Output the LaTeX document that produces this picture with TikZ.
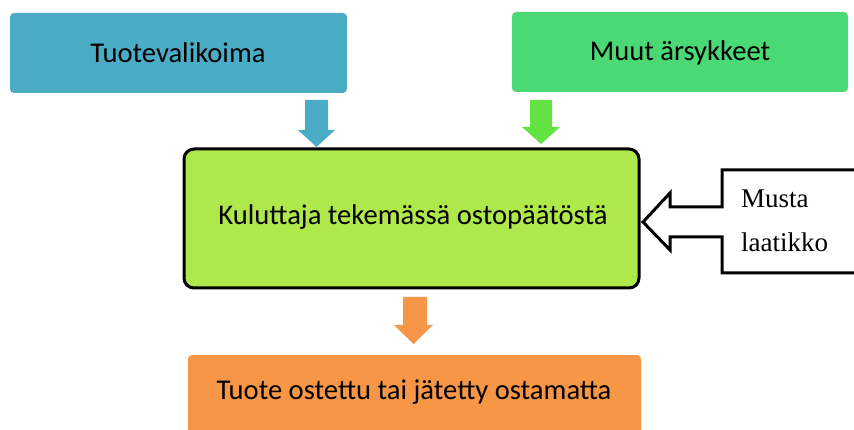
\documentclass[tikz,border=0pt]{standalone}
\usepackage{fontspec}
\setmainfont{Carlito}
\newfontfamily\serifx{Liberation Serif}
\definecolor{cblue}{RGB}{75,172,198}
\definecolor{cgreen}{RGB}{74,217,116}
\definecolor{carrowgreen}{RGB}{99,226,67}
\definecolor{clime}{RGB}{174,232,74}
\definecolor{corange}{RGB}{247,150,70}
\tikzset{
  boxtext/.style={font=\fontsize{28.6}{34}\selectfont, text=black},
  box/.style={rounded corners=4pt, inner sep=0pt},
  blockarrow/.style={draw=none}
}
\begin{document}
\begin{tikzpicture}[x=1pt,y=-1pt]
\useasboundingbox (0,0) rectangle (854,430);
\clip (0,0) rectangle (854,430);
% top boxes
\fill[cblue, rounded corners=4pt] (10,13) rectangle (347,93);
\node[boxtext] (tv) at (178,53) {Tuotevalikoima};
\fill[cgreen, rounded corners=4pt] (512,12) rectangle (848,92);
\node[boxtext] (ma) at (680,53) {Muut ärsykkeet};
% down arrows
\fill[cblue] (305,100) -- (328,100) -- (328,130) -- (335,130) -- (316.5,147) -- (298,130) -- (305,130) -- cycle;
\fill[carrowgreen] (530,100) -- (552,100) -- (552,127) -- (560,127) -- (541,144) -- (522,127) -- (530,127) -- cycle;
% main box
\draw[line width=3pt, fill=clime, rounded corners=10pt] (184,149) rectangle (639,288);
\node[boxtext] (kt) at (413,217) {Kuluttaja tekemässä ostopäätöstä};
% black box callout
\draw[line width=3pt, fill=white, line join=miter] (870,170) -- (722,170) -- (722,207) -- (670,207) -- (670,193) -- (643,222) -- (670,250) -- (670,237) -- (722,237) -- (722,273) -- (870,273);
\node[anchor=west, font=\serifx\fontsize{27}{44}\selectfont, align=left, inner sep=0pt] (ml) at (741,221) {Musta\\laatikko};
% orange arrow
\fill[corange] (403,297) -- (427,297) -- (427,325) -- (433,325) -- (413.5,344) -- (394,325) -- (403,325) -- cycle;
% bottom box
\fill[corange, rounded corners=4pt] (188,355) rectangle (641,450);
\node[boxtext] (to) at (414,392) {Tuote ostettu tai jätetty ostamatta};
\end{tikzpicture}
\end{document}
